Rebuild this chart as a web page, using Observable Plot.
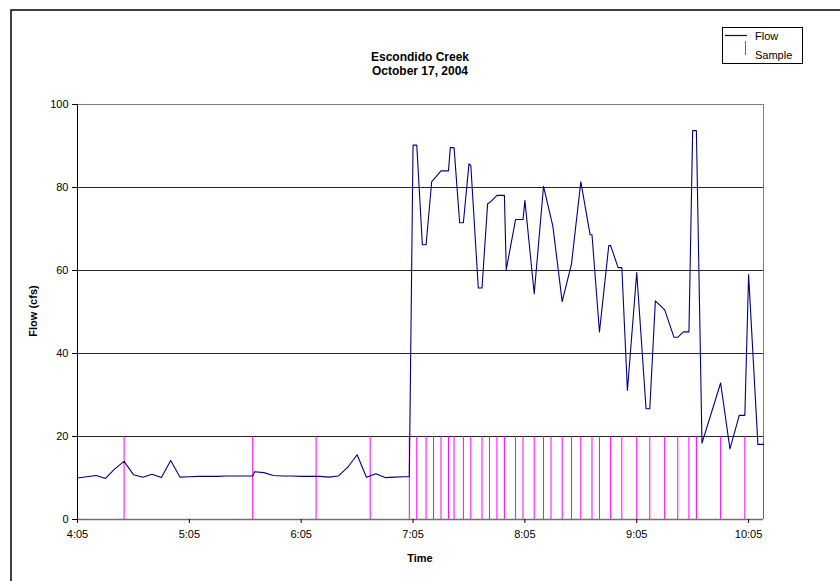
<!DOCTYPE html>
<html>
<head>
<meta charset="utf-8">
<script src="https://cdn.jsdelivr.net/npm/d3@7"></script>
<script src="https://cdn.jsdelivr.net/npm/@observablehq/plot@0.6"></script>
<style>
  html, body { margin: 0; padding: 0; background: #fff; }
  #chart { width: 840px; height: 581px; }
</style>
</head>
<body>
<div id="chart"></div>
<script>
// ---- Data ----
const titleLines = ["Escondido Creek", "October 17, 2004"];
const yLabel = "Flow (cfs)";
const xLabel = "Time";
const seriesNames = ["Flow", "Sample"];

const flowTimes = [
  "4:05","4:10","4:15","4:20","4:25","4:30","4:35","4:40","4:45","4:50","4:55",
  "5:00","5:05","5:10","5:15","5:20","5:25","5:30","5:35","5:39","5:40","5:45","5:50","5:55",
  "6:00","6:05","6:10","6:13","6:15","6:20","6:25","6:30","6:35","6:40","6:45","6:50","6:55",
  "7:00","7:03","7:05","7:07","7:10","7:12","7:15","7:16","7:20","7:24","7:25","7:27","7:30",
  "7:32","7:35","7:36","7:40","7:42","7:45","7:46","7:50","7:54","7:55",
  "8:00","8:04","8:05","8:10","8:15","8:20","8:25","8:30","8:35","8:40","8:41","8:45",
  "8:50","8:51","8:55","8:57",
  "9:00","9:05","9:10","9:12","9:15","9:20","9:25","9:27","9:30","9:33","9:35","9:37",
  "9:40","9:50","9:55",
  "10:00","10:03","10:05","10:10","10:13"
];
const flowValues = [
  10.0,10.3,10.6,9.9,12.2,14.0,10.8,10.2,10.9,10.1,14.2,
  10.2,10.3,10.4,10.4,10.4,10.5,10.5,10.5,10.5,11.5,11.3,10.6,10.5,
  10.5,10.4,10.4,10.4,10.4,10.2,10.5,12.6,15.6,10.2,11.0,10.1,10.2,
  10.3,10.3,90.2,90.2,66.2,66.2,81.4,81.9,84.0,84.0,89.6,89.6,71.5,
  71.5,85.7,85.3,55.8,55.8,76.1,76.3,78.1,78.1,60.2,
  72.3,72.3,76.9,54.4,80.3,70.7,52.5,61.6,81.4,68.6,68.6,45.2,
  66.0,66.0,60.7,60.7,
  31.1,59.5,26.7,26.7,52.7,50.5,43.9,43.9,45.2,45.2,93.7,93.7,
  18.4,32.9,17.0,
  25.1,25.1,59.0,18.1,18.1
];

const sampleTimes = [
  "4:30","5:39","6:13","6:42","7:03","7:07","7:12","7:16","7:20","7:24","7:27",
  "7:32","7:36","7:42","7:46","7:50","7:54","8:00","8:04","8:10","8:15","8:19",
  "8:25","8:30","8:35","8:41","8:45","8:51","8:57","9:05","9:12","9:20","9:27",
  "9:33","9:37","9:50","10:03","10:13"
];
const sampleLevel = [0, 20];

const xDomainLabels = ["4:05", "10:13"];
const xTickLabels = ["4:05","5:05","6:05","7:05","8:05","9:05","10:05"];
const yTicks = [0, 20, 40, 60, 80, 100];
const yGrid = [20, 40, 60, 80];

// ---- Helpers ----
function t(s) {
  const [h, m] = s.split(":").map(Number);
  return new Date(Date.UTC(2004, 9, 17, h, m));
}
const flow = flowTimes.map((s, i) => ({time: t(s), value: flowValues[i]}));
const samples = sampleTimes.map(s => ({time: t(s)}));
const xDomain = xDomainLabels.map(t);
const xTicks = xTickLabels.map(t);
const fmt = d3.utcFormat("%-H:%M");

const FONT = '"Liberation Sans", Arial, sans-serif';

const chart = Plot.plot({
  width: 840,
  height: 581,
  marginLeft: 77,
  marginRight: 77,
  marginTop: 104,
  marginBottom: 62,
  style: {fontFamily: FONT, fontSize: "11px", color: "#000", background: "#fff"},
  x: {type: "utc", domain: xDomain},
  y: {domain: [yTicks[0], yTicks[yTicks.length - 1]]},
  marks: [
    Plot.ruleY(yGrid, {stroke: "#000", strokeWidth: 1, strokeOpacity: 0.85}),
    Plot.ruleY([yTicks[yTicks.length - 1]], {stroke: "#808080", strokeWidth: 1}),
    Plot.ruleX([xDomain[1]], {stroke: "#808080", strokeWidth: 1}),
    Plot.ruleX(samples, {x: "time", y1: sampleLevel[0], y2: sampleLevel[1], stroke: "#FF00FF", strokeWidth: 1}),
    Plot.ruleY([yTicks[0]], {stroke: "#707070", strokeWidth: 1.5}),
    Plot.ruleX([xDomain[0]], {stroke: "#000", strokeWidth: 1}),
    Plot.line(flow, {x: "time", y: "value", stroke: "#000080", strokeWidth: 1.1}),
    Plot.axisY({ticks: yTicks, tickSize: 5, tickPadding: 4, label: null, fontSize: 11, stroke: "#000"}),
    Plot.axisX({ticks: xTicks, tickFormat: fmt, tickSize: 4, tickPadding: 7, label: null, fontSize: 11, stroke: "#000"})
  ]
});

document.getElementById("chart").appendChild(chart);

// ---- Titles, axis labels, legend, border ----
const svg = d3.select(chart);
const g = svg.append("g").attr("font-family", FONT).attr("fill", "#000").attr("text-anchor", "start");

// outer chart-area border (left and top visible)
g.append("path").attr("d", "M11,581 V10 H840").attr("fill", "none").attr("stroke", "#000").attr("stroke-width", 1.5);

g.append("text").attr("x", 420).attr("y", 61).attr("text-anchor", "middle")
  .attr("font-weight", "bold").attr("font-size", 12).text(titleLines[0]);
g.append("text").attr("x", 420).attr("y", 75).attr("text-anchor", "middle")
  .attr("font-weight", "bold").attr("font-size", 12).text(titleLines[1]);

g.append("text").attr("x", 420).attr("y", 562).attr("text-anchor", "middle")
  .attr("font-weight", "bold").attr("font-size", 11).text(xLabel);
g.append("text").attr("transform", "translate(37,311) rotate(-90)").attr("text-anchor", "middle")
  .attr("font-weight", "bold").attr("font-size", 11).text(yLabel);

// legend
const lg = g.append("g");
lg.append("rect").attr("x", 722.5).attr("y", 27.5).attr("width", 80).attr("height", 36)
  .attr("fill", "#fff").attr("stroke", "#000").attr("stroke-width", 1);
lg.append("line").attr("x1", 725).attr("x2", 747).attr("y1", 35.5).attr("y2", 35.5)
  .attr("stroke", "#000080").attr("stroke-width", 1.2);
lg.append("line").attr("x1", 745.5).attr("x2", 745.5).attr("y1", 41).attr("y2", 55)
  .attr("stroke", "#FF00FF").attr("stroke-width", 1);
lg.append("text").attr("x", 755).attr("y", 39.5).attr("text-anchor", "start").attr("font-size", 11).text(seriesNames[0]);
lg.append("text").attr("x", 755).attr("y", 58.5).attr("text-anchor", "start").attr("font-size", 11).text(seriesNames[1]);
</script>
</body>
</html>
